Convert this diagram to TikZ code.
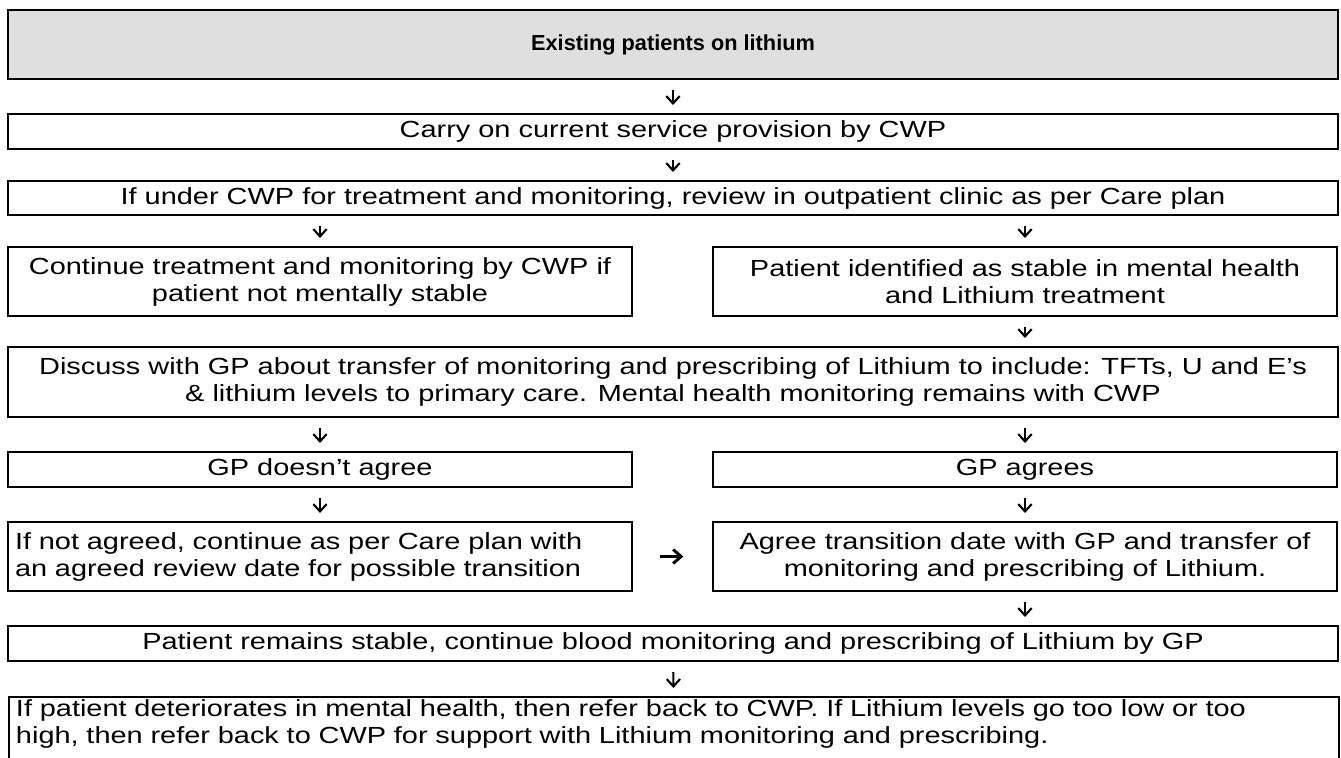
\documentclass[tikz,border=0pt]{standalone}
\usepackage{fontspec}
\setmainfont[FakeStretch=1.24]{Liberation Sans}
\newfontfamily\titlefamily{Liberation Sans}
\usetikzlibrary{arrows.meta}
\definecolor{headgray}{RGB}{223,223,223}
\newcommand\flowfont{\fontsize{17.5}{20.25}\selectfont}
\tikzset{
  box/.style={draw, line width=1.5pt, inner sep=0pt, align=center, font=\flowfont},
  wide/.style={box, minimum width=997.5pt},
  half/.style={box, minimum width=468pt},
  flow/.style={line width=1.6pt, -{Straight Barb[length=5.5pt,width=10pt]}, shorten <=7.5pt, shorten >=6pt},
  side/.style={line width=2.2pt, -{Straight Barb[length=6pt,width=10.5pt]}, shorten <=20pt, shorten >=21.5pt}
}
\begin{document}
\begin{tikzpicture}[x=0.75pt,y=-0.75pt]
\useasboundingbox (0,0) rectangle (1341,757);
\node[wide, fill=headgray, minimum height=51.75pt, font=\titlefamily\fontsize{16.3}{19}\selectfont\bfseries] (head) at (673,44.5) {Existing patients on lithium};
\node[wide, minimum height=26.25pt] (carry) at (673,131.5) {Carry on current service provision by CWP};
\node[wide, minimum height=25.5pt] (review) at (673,198) {If under CWP for treatment and monitoring, review in outpatient clinic as per Care plan};
\node[half, minimum height=51.75pt] (unstable) at (320,281.5) {Continue treatment and monitoring by CWP if\\patient not mentally stable};
\node[half, minimum height=51.75pt] (stable) at (1025,281.5) {Patient identified as stable in mental health\\and Lithium treatment};
\node[wide, minimum height=52.5pt] (discuss) at (673,382) {Discuss with GP about transfer of monitoring and prescribing of Lithium to include: TFTs, U and E’s\\\& lithium levels to primary care. Mental health monitoring remains with CWP};
\node[half, minimum height=26.25pt] (disagree) at (320,469.5) {GP doesn’t agree};
\node[half, minimum height=26.25pt] (agree) at (1025,469.5) {GP agrees};
\node[half, minimum height=51.75pt, inner xsep=5.25pt, text width=457.5pt, align=left] (notagreed) at (320,556.5) {If not agreed, continue as per Care plan with\\an agreed review date for possible transition};
\node[half, minimum height=51.75pt] (transfer) at (1025,556.5) {Agree transition date with GP and transfer of\\monitoring and prescribing of Lithium.};
\node[wide, minimum height=26.25pt] (gpstable) at (673,643.5) {Patient remains stable, continue blood monitoring and prescribing of Lithium by GP};
\node[wide, anchor=north west, inner xsep=5.25pt, inner ysep=2pt, text width=987pt, align=left] (referback) at (8,696) {If patient deteriorates in mental health, then refer back to CWP. If Lithium levels go too low or too\\high, then refer back to CWP for support with Lithium monitoring and prescribing.\rule[-24pt]{0pt}{24pt}};
\draw[flow] (head) -- (carry);
\draw[flow] (carry) -- (review);
\draw[flow] (review.south -| unstable) -- (unstable);
\draw[flow] (review.south -| stable) -- (stable);
\draw[flow] (stable) -- (discuss.north -| stable);
\draw[flow] (discuss.south -| disagree) -- (disagree);
\draw[flow] (discuss.south -| agree) -- (agree);
\draw[flow] (disagree) -- (notagreed);
\draw[flow] (agree) -- (transfer);
\draw[side] (notagreed) -- (transfer);
\draw[flow] (transfer) -- (gpstable.north -| transfer);
\draw[flow] (gpstable) -- (referback);
\end{tikzpicture}
\end{document}
